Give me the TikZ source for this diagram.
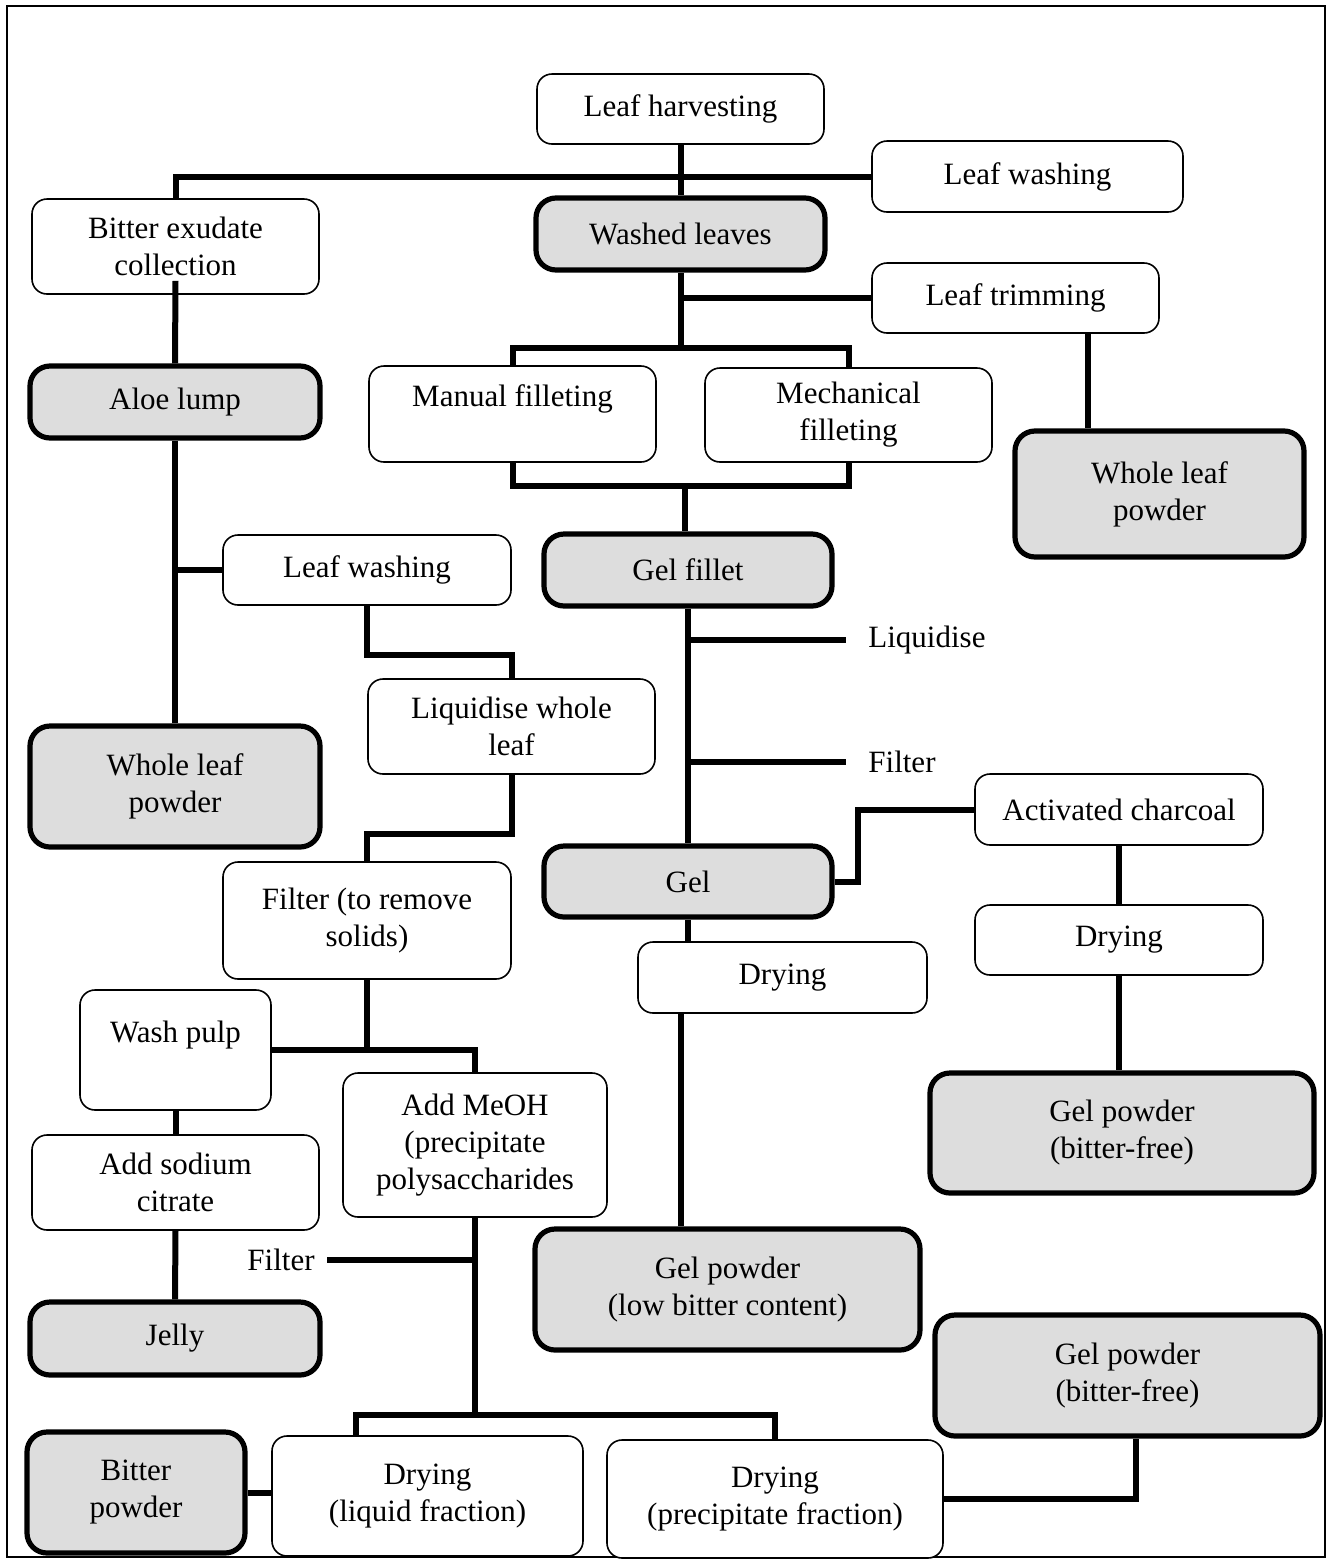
\documentclass[tikz,border=0pt]{standalone}
\usepackage{fontspec}
\setmainfont{Liberation Serif}
\usetikzlibrary{calc}
\definecolor{boxgray}{RGB}{221,221,221}
\tikzset{
  base/.style={align=center, inner sep=0pt, font=\fontsize{15.5}{18.5}\selectfont},
  thinbox/.style={base, draw, line width=0.8pt, rounded corners=7.5pt, fill=white},
  thickbox/.style={base, draw, line width=2.6pt, rounded corners=10pt, fill=boxgray},
  lbl/.style={base},
  conn/.style={line width=3pt},
}
\newcommand\bx[7]{\node[#6, minimum width={(#4-#2)*0.5pt}, minimum height={(#5-#3)*0.5pt}] (#1) at ({(#2+#4)/2},{(#3+#5)/2}) {#7};}
\begin{document}
\begin{tikzpicture}[x=0.5pt,y=-0.5pt]
\useasboundingbox (0,0) rectangle (1329,1560);
\draw[line width=0.7pt] (7,6) rectangle (1325,1557);

% connectors first (boxes drawn on top)
\begin{scope}[on background layer/.style={}]
\end{scope}

% nodes
\bx{harv}{537}{74}{824}{144}{thinbox}{Leaf harvesting}
\bx{wash1}{872}{141}{1183}{212}{thinbox}{Leaf washing}
\bx{bitter}{32}{199}{319}{294}{thinbox}{Bitter exudate\\collection}
\bx{washed}{536}{198}{825}{270}{thickbox}{Washed leaves}
\bx{trim}{872}{263}{1159}{333}{thinbox}{Leaf trimming}
\bx{aloe}{30}{366}{320}{438}{thickbox}{Aloe lump}
\bx{manual}{369}{366}{656}{462}{thinbox}{Manual filleting\\\mbox{}}
\bx{mech}{705}{368}{992}{462}{thinbox}{Mechanical\\filleting}
\bx{whole1}{1015}{431}{1304}{557}{thickbox}{Whole leaf\\powder}
\bx{wash2}{223}{535}{511}{605}{thinbox}{Leaf washing}
\bx{gelfillet}{544}{534}{832}{606}{thickbox}{Gel fillet}
\node[lbl, anchor=west, inner xsep=11pt] (liq) at (846,640) {Liquidise};
\node[lbl, anchor=west, inner xsep=11pt] (filt) at (846,762) {Filter};
\bx{liqwhole}{368}{679}{655}{774}{thinbox}{Liquidise whole\\leaf}
\bx{whole2}{30}{726}{320}{847}{thickbox}{Whole leaf\\powder}
\bx{charcoal}{975}{774}{1263}{845}{thinbox}{Activated charcoal}
\bx{gel}{544}{846}{832}{917}{thickbox}{Gel}
\bx{filter1}{223}{862}{511}{979}{thinbox}{Filter (to remove\\solids)}
\bx{dry1}{638}{942}{927}{1013}{thinbox}{Drying}
\bx{dry2}{975}{905}{1263}{975}{thinbox}{Drying}
\bx{washpulp}{80}{990}{271}{1110}{thinbox}{Wash pulp\\\mbox{}}
\bx{addmeoh}{343}{1073}{607}{1217}{thinbox}{Add MeOH\\(precipitate\\polysaccharides}
\bx{gpbf1}{930}{1073}{1314}{1193}{thickbox}{Gel powder\\(bitter-free)}
\bx{sodium}{32}{1135}{319}{1230}{thinbox}{Add sodium\\citrate}
\node[lbl, anchor=east, inner xsep=6pt] (filt2) at (327,1260) {Filter};
\bx{gplow}{535}{1229}{920}{1350}{thickbox}{Gel powder\\(low bitter content)}
\bx{jelly}{30}{1302}{320}{1375}{thickbox}{Jelly}
\bx{gpbf2}{935}{1315}{1320}{1436}{thickbox}{Gel powder\\(bitter-free)}
\bx{bitterp}{27}{1432}{245}{1553}{thickbox}{Bitter\\powder}
\bx{dryliq}{272}{1436}{583}{1556}{thinbox}{Drying\\(liquid fraction)}
\bx{dryprec}{607}{1440}{943}{1558}{thinbox}{Drying\\(precipitate fraction)}

\coordinate (j1) at (681,348);
\coordinate (j2) at (685,486);
\coordinate (j4) at (474,1415);

% connectors
\draw[conn] (harv.south) -- (washed.north);
\draw[conn] (bitter.north) |- (wash1.west);
\draw[conn] ([yshift=7pt]bitter.south) -- (aloe.north);
\draw[conn] (washed.south) -- (washed.south |- j1);
\draw[conn] (manual.north) |- (j1) -| (mech.north);
\draw[conn] (washed.south |- trim.west) -- (trim.west);
\draw[conn] ([xshift=36.25pt]trim.south) -- ([xshift=36.25pt]trim.south |- whole1.north);
\draw[conn] (manual.south) |- (j2) -| (mech.south);
\draw[conn] (j2) -- (j2 |- gelfillet.north);
\draw[conn] (aloe.south) -- (whole2.north);
\draw[conn] (aloe.south |- wash2.west) -- (wash2.west);
\draw[conn] (wash2.south) -- ++(0,-24.5pt) -| (liqwhole.north);
\draw[conn] (liqwhole.south) -- ++(0,-29.5pt) -| (filter1.north);
\draw[conn] (gelfillet.south) -- (gel.north);
\draw[conn] (gelfillet.south |- liq.west) -- (liq.west);
\draw[conn] (gelfillet.south |- filt.west) -- (filt.west);
\draw[conn] (gel.east) -- ++(11.5pt,0) |- (charcoal.west);
\draw[conn] (charcoal.south) -- (dry2.north);
\draw[conn] (dry2.south) -- (dry2.south |- gpbf1.north);
\draw[conn] (gel.south) -- (gel.south |- dry1.north);
\draw[conn] ([xshift=-51pt]dry1.south) -- ([xshift=-51pt]dry1.south |- gplow.north);
\draw[conn] (filter1.south) -- (filter1.south |- washpulp.east);
\draw[conn] (washpulp.east) -| (addmeoh.north);
\draw[conn] (washpulp.south) -- (sodium.north);
\draw[conn] (sodium.south) -- (jelly.north);
\draw[conn] (addmeoh.south) -- (addmeoh.south |- j4);
\draw[conn] ([xshift=-35.75pt]dryliq.north) |- (j4) -| (dryprec.north);
\draw[conn] (filt2.east) -- (addmeoh.south |- filt2.east);
\draw[conn] (bitterp.east) -- (bitterp.east -| dryliq.west);
\draw[conn] (dryprec.east) -| ([xshift=4pt]gpbf2.south);
\end{tikzpicture}
\end{document}
